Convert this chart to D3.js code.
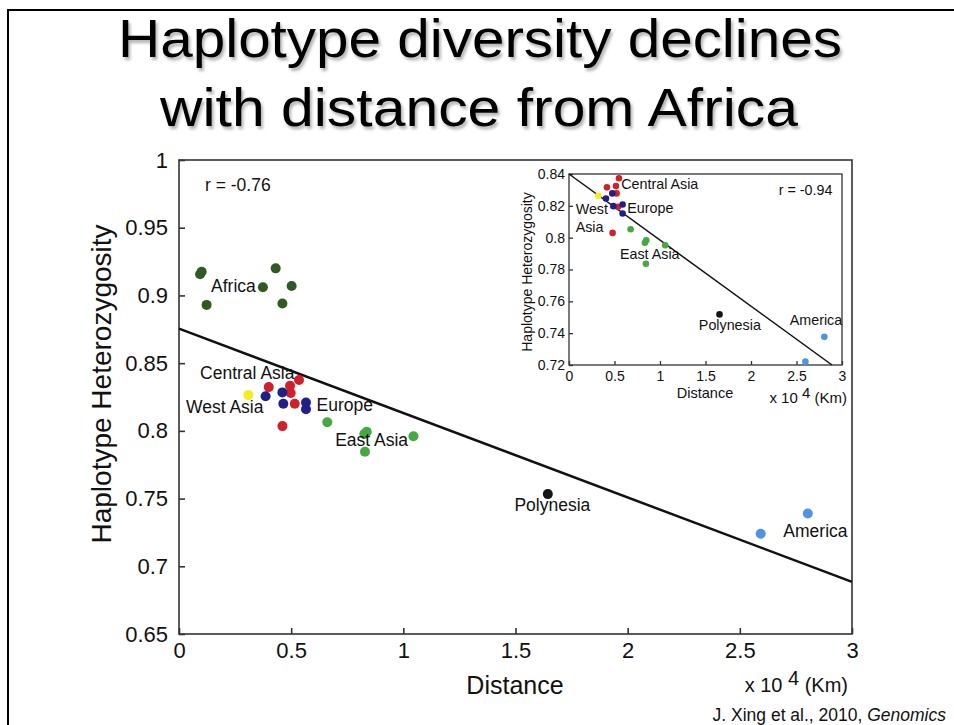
<!DOCTYPE html>
<html>
<head>
<meta charset="utf-8">
<script src="https://cdn.jsdelivr.net/npm/d3@7"></script>
<style>
  body { margin: 0; background: #fff; }
  svg { display: block; font-family: "Liberation Sans", Arial, Helvetica, sans-serif; }
</style>
</head>
<body>
<div id="svg_container"></div>
<script>
// main panel: distance (x 10^4 km) vs haplotype heterozygosity
let regions = ['Africa', 'Central Asia', 'Europe', 'West Asia', 'East Asia', 'Polynesia', 'America'];

let africaMain = [[0.101, 0.9175], [0.094, 0.9156], [0.431, 0.920], [0.374, 0.906], [0.502, 0.907], [0.123, 0.893], [0.461, 0.894]];
let centralAsiaMain = [[0.400, 0.8323], [0.495, 0.8333], [0.498, 0.828], [0.535, 0.8375], [0.516, 0.820], [0.461, 0.8035]];
let europeMain = [[0.386, 0.8255], [0.461, 0.8284], [0.465, 0.820], [0.566, 0.821], [0.566, 0.816]];
let westAsiaMain = [[0.309, 0.8264]];
let eastAsiaMain = [[0.661, 0.8063], [0.826, 0.7976], [0.837, 0.7993], [0.829, 0.7846], [1.045, 0.796]];
let polynesiaMain = [[1.644, 0.7533]];
let americaMain = [[2.803, 0.739], [2.593, 0.724]];
let fitMain = [[0, 0.8755], [3, 0.6885]];

// inset: same populations without Africa
let centralAsiaInset = [[0.549, 0.8373], [0.417, 0.8316], [0.516, 0.8324], [0.523, 0.8278], [0.538, 0.8194], [0.479, 0.803]];
let europeInset = [[0.476, 0.8278], [0.406, 0.8246], [0.487, 0.8198], [0.589, 0.8208], [0.589, 0.8152]];
let westAsiaInset = [[0.322, 0.8263]];
let eastAsiaInset = [[0.677, 0.8053], [0.849, 0.7983], [0.834, 0.7968], [1.057, 0.7952], [0.845, 0.7836]];
let polynesiaInset = [[1.654, 0.7518]];
let americaInset = [[2.806, 0.7377], [2.598, 0.7221]];
let fitInset = [[0, 0.84], [2.89, 0.72]];

let xTicks = [0, 0.5, 1, 1.5, 2, 2.5, 3];
let yTicksMain = [0.65, 0.7, 0.75, 0.8, 0.85, 0.9, 0.95, 1];
let yTicksInset = [0.72, 0.74, 0.76, 0.78, 0.8, 0.82, 0.84];

// annotation anchors, in data units
let labelsMain = [['Africa', 0.143, 0.9027], ['Central Asia', 0.094, 0.838], ['West Asia', 0.031, 0.8134],
    ['Europe', 0.613, 0.8148], ['East Asia', 0.696, 0.7888], ['Polynesia', 1.495, 0.741], ['America', 2.694, 0.7218]];
let labelsInset = [['Central Asia', 0.574, 0.8303], ['West', 0.073, 0.8147], ['Europe', 0.640, 0.8158], ['Asia', 0.073, 0.8036],
    ['East Asia', 0.560, 0.7867], ['Polynesia', 1.427, 0.7419], ['America', 2.426, 0.7453]];
let rMain = ['r = -0.76', 0.116, 0.977];
let rInset = ['r = -0.94', 2.305, 0.8267];

let colors = {
    'Africa': '#2f5a23', 'Central Asia': '#d0202a', 'Europe': '#202088', 'West Asia': '#f2ee1c',
    'East Asia': '#46a840', 'Polynesia': '#151515', 'America': '#4f94e4'
};

let mainSeries = [['Africa', africaMain], ['Central Asia', centralAsiaMain], ['Europe', europeMain], ['West Asia', westAsiaMain],
    ['East Asia', eastAsiaMain], ['Polynesia', polynesiaMain], ['America', americaMain]];
let insetSeries = [['Central Asia', centralAsiaInset], ['Europe', europeInset], ['West Asia', westAsiaInset],
    ['East Asia', eastAsiaInset], ['Polynesia', polynesiaInset], ['America', americaInset]];

let svg = d3.select('#svg_container').append('svg')
    .attr('width', 954)
    .attr('height', 725);

// slide frame
svg.append('path')
    .attr('d', 'M8,725 V10 H954')
    .attr('fill', 'none')
    .attr('stroke', '#000')
    .attr('stroke-width', 2);

let defs = svg.append('defs');
let shadow = defs.append('filter').attr('id', 'shadow').attr('x', '-10%').attr('y', '-10%').attr('width', '120%').attr('height', '130%');
shadow.append('feDropShadow').attr('dx', 2).attr('dy', 3).attr('stdDeviation', 1.5).attr('flood-color', '#000').attr('flood-opacity', 0.3);

let title = svg.append('g').attr('filter', 'url(#shadow)');
title.append('text').attr('x', 480).attr('y', 57).attr('text-anchor', 'middle')
    .attr('font-size', 53).attr('textLength', 724).attr('lengthAdjust', 'spacingAndGlyphs')
    .text('Haplotype diversity declines');
title.append('text').attr('x', 479).attr('y', 126).attr('text-anchor', 'middle')
    .attr('font-size', 53).attr('textLength', 638).attr('lengthAdjust', 'spacingAndGlyphs')
    .text('with distance from Africa');

function drawPanel(g, opts) {
    let x = d3.scaleLinear().domain([0, 3]).range(opts.xRange);
    let y = d3.scaleLinear().domain(opts.yDomain).range(opts.yRange);
    let [x0, x1] = opts.xRange;
    let [y0, y1] = opts.yRange;

    g.append('rect')
        .attr('x', x0).attr('y', y1)
        .attr('width', x1 - x0).attr('height', y0 - y1)
        .attr('fill', '#fff')
        .attr('stroke', '#333')
        .attr('stroke-width', opts.frame);

    let xAxis = g.append('g').attr('transform', `translate(0,${y0})`)
        .call(d3.axisBottom(x).tickValues(xTicks).tickSizeInner(-opts.tick).tickSizeOuter(0).tickPadding(opts.xPad).tickFormat(d3.format('')));
    let yAxis = g.append('g').attr('transform', `translate(${x0},0)`)
        .call(d3.axisLeft(y).tickValues(opts.yTicks).tickSizeInner(-opts.tick).tickSizeOuter(0).tickPadding(opts.yPad).tickFormat(d3.format('')));
    [xAxis, yAxis].forEach(a => {
        a.select('.domain').remove();
        a.selectAll('line').attr('stroke', '#333').attr('stroke-width', opts.frame);
        a.selectAll('text').attr('font-size', opts.tickFont).attr('fill', '#111')
            .attr('font-family', '"Liberation Sans", Arial, sans-serif');
    });

    let line = d3.line().x(d => x(d[0])).y(d => y(d[1]));
    g.append('path').attr('d', line(opts.fit))
        .attr('fill', 'none').attr('stroke', '#111').attr('stroke-width', opts.fitWidth);

    opts.series.forEach(([name, pts]) => {
        g.append('g').selectAll('circle').data(pts).join('circle')
            .attr('cx', d => x(d[0])).attr('cy', d => y(d[1]))
            .attr('r', opts.radius)
            .attr('fill', colors[name]);
    });

    g.append('g').selectAll('text').data(opts.labels.concat([opts.r])).join('text')
        .attr('x', d => x(d[1])).attr('y', d => y(d[2]))
        .attr('font-size', opts.labelFont).attr('fill', '#111')
        .text(d => d[0]);

    return { x, y };
}

// main chart
let main = svg.append('g');
drawPanel(main, {
    xRange: [179, 852], yRange: [634, 160], yDomain: [0.65, 1],
    yTicks: yTicksMain, tick: 6, frame: 1.6, tickFont: 22, xPad: 8, yPad: 11,
    fit: fitMain, fitWidth: 2.5, series: mainSeries, radius: 5,
    labels: labelsMain, r: rMain, labelFont: 17.5
});

main.append('text').attr('transform', 'translate(111,384) rotate(-90)').attr('text-anchor', 'middle')
    .attr('font-size', 28).attr('fill', '#111').text('Haplotype Heterozygosity');
main.append('text').attr('x', 515).attr('y', 694).attr('text-anchor', 'middle')
    .attr('font-size', 25).attr('fill', '#111').text('Distance');
let unitMain = main.append('text').attr('x', 848).attr('y', 692).attr('text-anchor', 'end')
    .attr('font-size', 20).attr('fill', '#111');
unitMain.append('tspan').text('x 10 ');
unitMain.append('tspan').attr('dy', -7).text('4');
unitMain.append('tspan').attr('dy', 7).text(' (Km)');

// inset chart
let inset = svg.append('g');
drawPanel(inset, {
    xRange: [569, 842], yRange: [365, 174], yDomain: [0.72, 0.84],
    yTicks: yTicksInset, tick: 4, frame: 1.3, tickFont: 14, xPad: 6, yPad: 4,
    fit: fitInset, fitWidth: 1.5, series: insetSeries, radius: 3.3,
    labels: labelsInset, r: rInset, labelFont: 14.3
});

inset.append('text').attr('transform', 'translate(532,272) rotate(-90)').attr('text-anchor', 'middle')
    .attr('font-size', 14).attr('fill', '#111').text('Haplotype Heterozygosity');
inset.append('text').attr('x', 705).attr('y', 398).attr('text-anchor', 'middle')
    .attr('font-size', 14.5).attr('fill', '#111').text('Distance');
let unitInset = inset.append('text').attr('x', 847).attr('y', 403).attr('text-anchor', 'end')
    .attr('font-size', 15).attr('fill', '#111');
unitInset.append('tspan').text('x 10 ');
unitInset.append('tspan').attr('dy', -5).text('4');
unitInset.append('tspan').attr('dy', 5).text(' (Km)');

// citation
let cite = svg.append('text').attr('x', 946).attr('y', 721).attr('text-anchor', 'end')
    .attr('font-size', 17.5).attr('fill', '#111');
cite.append('tspan').text('J. Xing et al., 2010, ');
cite.append('tspan').attr('font-style', 'italic').text('Genomics');
</script>
</body>
</html>
